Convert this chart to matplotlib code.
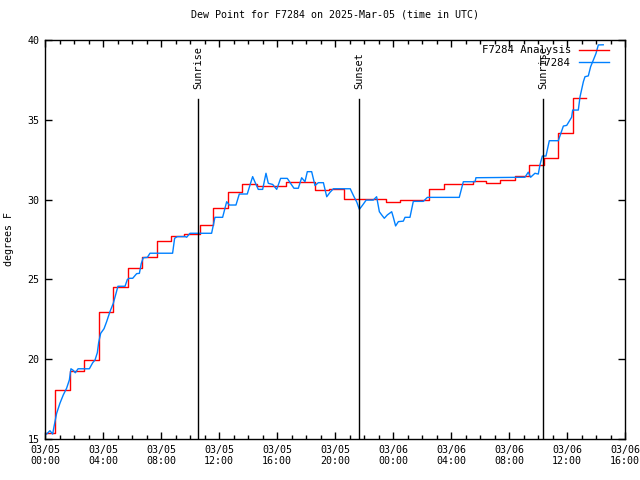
import matplotlib
matplotlib.use("Agg")
import matplotlib.pyplot as plt
import numpy as np

# ---- data (hours since 2025-03-05 00:00 UTC) ----
red_t = [0.0, 0.7, 1.7, 2.7, 3.7, 4.7, 5.7, 6.7, 7.7, 8.7, 9.6, 10.7, 11.6, 12.6,
         13.6, 14.6, 16.6, 18.6, 19.6, 20.6, 23.5, 24.5, 26.5, 27.5, 29.5, 30.4,
         31.4, 32.4, 33.4, 34.4, 35.4, 36.4, 37.3]
red_v = [15.4, 18.1, 19.25, 19.95, 22.95, 24.55, 25.7, 26.4, 27.4, 27.75, 27.82,
         28.4, 29.5, 30.45, 30.95, 30.85, 31.1, 30.6, 30.65, 30.05, 29.85, 29.95,
         30.65, 31.0, 31.15, 31.05, 31.25, 31.5, 32.15, 32.6, 34.15, 36.35, 36.35]

blue_t = [0.11, 0.34, 0.53, 0.62, 0.80, 1.03, 1.26, 1.49, 1.68, 1.79, 1.95, 2.09, 2.28,
          3.06, 3.29, 3.45, 3.61, 3.70, 3.84, 4.07, 4.25, 4.48, 4.71, 4.90, 5.03, 5.52,
          5.68, 5.82, 6.05, 6.32, 6.51, 6.64, 6.78, 7.06, 7.24, 8.80, 8.94, 9.13, 9.66,
          9.77, 10.0, 11.49, 11.72, 12.25, 12.41, 12.53, 12.71, 13.17, 13.40, 13.95,
          14.14, 14.32, 14.48, 14.71, 15.01, 15.24, 15.40, 15.70, 15.98, 16.25, 16.71,
          17.01, 17.17, 17.47, 17.70, 17.93, 18.09, 18.39, 18.62, 18.85, 19.20, 19.43,
          19.66, 19.89, 21.05, 21.3, 21.5, 21.68, 21.9, 22.15, 22.64, 22.87, 23.06,
          23.22, 23.40, 23.61, 23.91, 24.02, 24.18, 24.37, 24.71, 24.83, 25.17, 25.40,
          26.09, 26.37, 28.57, 28.85, 29.66, 29.72, 33.10, 33.33, 33.49, 33.79, 34.02,
          34.14, 34.30, 34.55, 34.78, 35.40, 35.75, 35.98, 36.32, 36.39, 36.78, 36.9,
          37.13, 37.24, 37.47, 37.63, 37.82, 38.0, 38.16, 38.5]
blue_v = [15.31, 15.52, 15.31, 15.77, 16.6, 17.24, 17.76, 18.18, 18.7, 19.4, 19.3, 19.15, 19.4,
          19.4, 19.78, 19.95, 20.41, 21.04, 21.62, 21.91, 22.35, 22.98, 23.5, 24.13, 24.57, 24.57,
          25.0, 25.07, 25.07, 25.36, 25.38, 26.0, 26.36, 26.38, 26.64, 26.64, 27.58, 27.68, 27.68,
          27.64, 27.89, 27.89, 28.89, 28.89, 29.45, 29.87, 29.66, 29.66, 30.35, 30.35,
          30.92, 31.44, 31.1, 30.64, 30.64, 31.65, 31.02, 30.95, 30.64, 31.33, 31.33,
          30.92, 30.71, 30.71, 31.37, 31.12, 31.75, 31.75, 30.88, 31.06, 31.06, 30.18,
          30.46, 30.68, 30.68, 30.2, 29.85, 29.39, 29.65, 29.97, 29.97, 30.18, 29.24,
          29.04, 28.83, 29.04, 29.24, 28.9, 28.35, 28.62, 28.65, 28.89, 28.89, 29.89,
          29.89, 30.14, 30.14, 31.12, 31.12, 31.37, 31.4, 31.72, 31.4, 31.65, 31.6,
          32.2, 32.73, 32.73, 33.69, 33.69, 34.61, 34.65, 35.16, 35.61, 35.61, 36.45,
          37.39, 37.70, 37.75, 38.33, 38.75, 39.16, 39.69, 39.7]

events = ["Sunrise", "Sunset", "Sunrise"]
event_t = [10.55, 21.66, 34.34]

xtick_labels = ["03/05\n00:00", "03/05\n04:00", "03/05\n08:00", "03/05\n12:00",
                "03/05\n16:00", "03/05\n20:00", "03/06\n00:00", "03/06\n04:00",
                "03/06\n08:00", "03/06\n12:00", "03/06\n16:00"]
yticks = [15, 20, 25, 30, 35, 40]

FONT = "DejaVu Sans Mono"
FS = 6.2
plt.rcParams['font.family'] = FONT

fig = plt.figure(figsize=(6.4, 4.8), dpi=100)
ax = fig.add_axes([45/640, 1-439/480, 580/640, 399/480])

ax.step(red_t, red_v, where='post', color='#ff0000', lw=1.0, label='F7284 Analysis')
ax.plot(blue_t, blue_v, color='#0080ff', lw=1.0, label='F7284')

for name, t in zip(events, event_t):
    ax.plot([t, t], [15, 36.3], color='black', lw=1.0)
    ax.text(t, 36.9, name, rotation=90, ha='center', va='bottom', fontsize=FS + 1.2)

ax.set_xlim(0, 40)
ax.set_ylim(15, 40)
ax.set_xticks(np.arange(0, 41, 4))
ax.set_xticklabels(xtick_labels)
ax.set_xticks(np.arange(0, 41, 1), minor=True)
ax.set_yticks(yticks)
ax.set_yticklabels([str(v) for v in yticks])
ax.tick_params(axis='both', which='major', direction='in', length=5, width=1,
               top=True, right=True, labelsize=FS + 1, pad=4)
ax.tick_params(axis='x', which='minor', direction='in', length=3, width=1, top=True)
ax.tick_params(axis='y', which='minor', left=False, right=False)
for s in ax.spines.values():
    s.set_linewidth(1.0)

ax.set_ylabel("degrees F", fontsize=FS + 1, labelpad=10)
ax.set_title("Dew Point for F7284 on 2025-Mar-05 (time in UTC)", fontsize=FS + 1, pad=16)

ax.legend(loc='upper right', markerfirst=False, frameon=False, fontsize=FS + 1.5,
          handlelength=2.8, handletextpad=0.75, labelspacing=0.2,
          borderaxespad=0.3, bbox_to_anchor=(0.985, 1.005))

fig.savefig("out.png", dpi=100)
